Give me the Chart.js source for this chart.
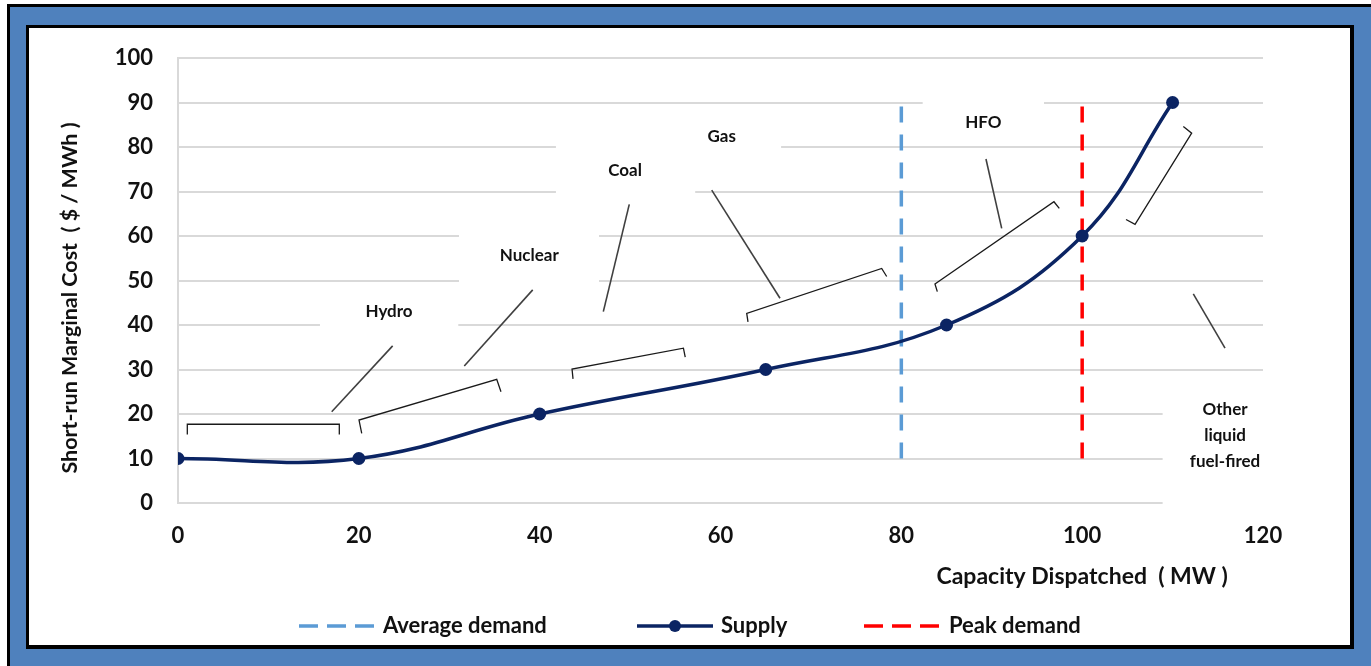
<!DOCTYPE html>
<html>
<head>
<meta charset="utf-8">
<title>Merit order supply curve</title>
<script src="https://cdn.jsdelivr.net/npm/chart.js@4.4.1/dist/chart.umd.min.js"></script>
<style>
  html, body { margin: 0; padding: 0; background: #ffffff; }
  #wrap { width: 1371px; height: 666px; }
</style>
</head>
<body>
<div id="wrap"><canvas id="chart" width="1371" height="666"></canvas></div>
<script>
// ---- Data -------------------------------------------------------------
const capacityMW   = [0, 20, 40, 65, 85, 100, 110];
const marginalCost = [10, 10, 20, 30, 40, 60, 90];

const averageDemandMW   = [80, 80];
const averageDemandCost = [10, 90];
const peakDemandMW      = [100, 100];
const peakDemandCost    = [10, 90];

const xTickValues = [0, 20, 40, 60, 80, 100, 120];
const yTickValues = [0, 10, 20, 30, 40, 50, 60, 70, 80, 90, 100];

const seriesNames = ['Average demand', 'Supply', 'Peak demand'];
const fuelTypes = ['Hydro', 'Nuclear', 'Coal', 'Gas', 'HFO', ['Other', 'liquid', 'fuel-fired']];

const xAxisTitle = 'Capacity Dispatched  ( MW )';
const yAxisTitle = 'Short-run Marginal Cost  ( $ / MWh )';

// ---- Callout geometry (in axis units) ---------------------------------
// box: [x0, y0, x1, y1], text anchor, leader line, bracket (a-b with end ticks)
const calloutLayout = [
  { box: [15.7, 48.5, 31.0, 37.8],  text: [23.34, 43.1], leader: [[17.0, 20.5], [23.74, 35.3]],
    bracket: { a: [1.03, 17.7], b: [17.84, 17.7], ta: [1.03, 15.4], tb: [17.84, 15.4] } },
  { box: [31.08, 60.9, 46.56, 48.2], text: [38.85, 55.7], leader: [[31.66, 30.8], [39.23, 47.9]],
    bracket: { a: [20.02, 18.65], b: [35.25, 27.8], ta: [20.32, 15.66], tb: [35.72, 25.0] } },
  { box: [41.8, 81.1, 57.2, 69.0],  text: [49.44, 74.8], leader: [[47.04, 43.0], [49.91, 67.1]],
    bracket: { a: [43.58, 30.1], b: [55.9, 34.8], ta: [43.69, 27.9], tb: [56.1, 32.8] } },
  { box: [53.5, 86.7, 66.7, 77.8],  text: [60.13, 82.3], leader: [[59.03, 70.3], [66.58, 46.0]],
    bracket: { a: [62.9, 42.6], b: [77.83, 52.7], ta: [63.04, 40.7], tb: [78.38, 50.9] } },
  { box: [82.36, 91.2, 95.78, 80.4], text: [89.07, 85.5], leader: [[89.36, 77.3], [91.1, 61.7]],
    bracket: { a: [83.72, 49.2], b: [96.88, 67.7], ta: [83.98, 47.5], tb: [97.47, 66.2] } },
  { box: [108.9, 28.1, 123.5, -1.5], text: [115.8, 15.1], leader: [[112.29, 47.0], [115.8, 34.8]],
    bracket: { a: [112.11, 83.1], b: [105.85, 62.6], ta: [111.19, 84.6], tb: [104.85, 63.7] } }
];

// ---- Styling ----------------------------------------------------------
const FONT = 'Lato, "Open Sans", "Liberation Sans", sans-serif';
const NAVY = '#0B2463';
const AVG_BLUE = '#5B9BD5';
const PEAK_RED = '#FF0000';
const FRAME_BLUE = '#4F81BD';
const GRID = '#D9D9D9';
const DASH = [16, 12];

const toPoints = (xs, ys) => xs.map((x, i) => ({ x: x, y: ys[i] }));

// Page frame: thin black rule, blue band, inner black rule, white panel
const framePlugin = {
  id: 'frame',
  beforeDraw(chart) {
    const c = chart.ctx, W = chart.width, H = chart.height;
    c.save();
    c.fillStyle = '#ffffff';
    c.fillRect(0, 0, W, H);
    c.fillStyle = '#000000';
    c.fillRect(7, 4, W - 7, H - 4);
    c.fillStyle = FRAME_BLUE;
    c.fillRect(10, 7, W - 10, H - 7);
    c.fillStyle = '#000000';
    c.fillRect(26, 25, 1354 - 26, 649 - 25);
    c.fillStyle = '#ffffff';
    c.fillRect(29, 28, 1350 - 29, 645 - 28);
    c.restore();
  }
};

// White text boxes behind the fuel labels (they mask the gridlines)
const calloutBoxes = {
  id: 'calloutBoxes',
  beforeDatasetsDraw(chart) {
    const c = chart.ctx, xs = chart.scales.x, ys = chart.scales.y;
    c.save();
    c.fillStyle = '#ffffff';
    calloutLayout.forEach(l => {
      const x0 = xs.getPixelForValue(l.box[0]), x1 = xs.getPixelForValue(l.box[2]);
      const y0 = ys.getPixelForValue(l.box[1]), y1 = ys.getPixelForValue(l.box[3]);
      c.fillRect(x0, y0, x1 - x0, y1 - y0);
    });
    c.restore();
  }
};

// Leader lines, brackets and fuel labels
const calloutMarks = {
  id: 'calloutMarks',
  afterDatasetsDraw(chart) {
    const c = chart.ctx, xs = chart.scales.x, ys = chart.scales.y;
    const P = p => [xs.getPixelForValue(p[0]), ys.getPixelForValue(p[1])];
    c.save();
    calloutLayout.forEach((l, i) => {
      // leader
      const a = P(l.leader[0]), b = P(l.leader[1]);
      c.strokeStyle = '#404040';
      c.lineWidth = 1.6;
      c.beginPath(); c.moveTo(a[0], a[1]); c.lineTo(b[0], b[1]); c.stroke();
      // bracket
      const br = l.bracket;
      const ba = P(br.a), bb = P(br.b), ta = P(br.ta), tb = P(br.tb);
      c.strokeStyle = '#1a1a1a';
      c.lineWidth = 1.3;
      c.beginPath();
      c.moveTo(ta[0], ta[1]); c.lineTo(ba[0], ba[1]); c.lineTo(bb[0], bb[1]); c.lineTo(tb[0], tb[1]);
      c.stroke();
      // label
      const t = P(l.text);
      c.fillStyle = '#111111';
      c.font = 'bold 17px ' + FONT;
      c.textAlign = 'center';
      c.textBaseline = 'middle';
      const lines = Array.isArray(fuelTypes[i]) ? fuelTypes[i] : [fuelTypes[i]];
      const lh = 26;
      lines.forEach((s, k) => {
        c.fillText(s, t[0], t[1] + (k - (lines.length - 1) / 2) * lh);
      });
    });
    c.restore();
  }
};

// Axis titles and legend
const titlesAndLegend = {
  id: 'titlesAndLegend',
  afterDraw(chart) {
    const c = chart.ctx, xs = chart.scales.x;
    c.save();
    c.fillStyle = '#111111';
    // x title
    c.font = 'bold 23px ' + FONT;
    c.textAlign = 'center';
    c.textBaseline = 'middle';
    c.fillText(xAxisTitle, xs.getPixelForValue(100), 577);
    // y title
    c.save();
    c.translate(70, 298);
    c.rotate(-Math.PI / 2);
    c.font = 'bold 21.5px ' + FONT;
    c.fillText(yAxisTitle, 0, 0);
    c.restore();

    // legend
    const ly = 626;
    const items = [
      { x0: 299, x1: 375, tx: 383, color: AVG_BLUE, dash: [19, 9], dot: false },
      { x0: 637, x1: 713, tx: 721, color: NAVY, dash: [], dot: true },
      { x0: 864, x1: 940, tx: 949, color: PEAK_RED, dash: [19, 9], dot: false }
    ];
    items.forEach((it, i) => {
      c.strokeStyle = it.color;
      c.lineWidth = 3.5;
      c.setLineDash(it.dash);
      c.beginPath(); c.moveTo(it.x0, ly); c.lineTo(it.x1, ly); c.stroke();
      c.setLineDash([]);
      if (it.dot) {
        c.fillStyle = it.color;
        c.beginPath(); c.arc((it.x0 + it.x1) / 2, ly, 6, 0, Math.PI * 2); c.fill();
      }
      c.fillStyle = '#111111';
      c.font = 'bold 22px ' + FONT;
      c.textAlign = 'left';
      c.textBaseline = 'middle';
      c.fillText(seriesNames[i], it.tx, ly);
    });
    c.restore();
  }
};

new Chart(document.getElementById('chart'), {
  type: 'line',
  data: {
    datasets: [
      {
        label: seriesNames[0],
        data: toPoints(averageDemandMW, averageDemandCost),
        borderColor: AVG_BLUE, borderWidth: 3.5, borderDash: DASH,
        pointRadius: 0, tension: 0, order: 1
      },
      {
        label: seriesNames[1],
        data: toPoints(capacityMW, marginalCost),
        borderColor: NAVY, backgroundColor: NAVY, borderWidth: 3.5,
        pointRadius: 6.5, pointBackgroundColor: NAVY, pointBorderWidth: 0,
        tension: 0.4, order: 0
      },
      {
        label: seriesNames[2],
        data: toPoints(peakDemandMW, peakDemandCost),
        borderColor: PEAK_RED, borderWidth: 3.5, borderDash: DASH,
        pointRadius: 0, tension: 0, order: 1
      }
    ]
  },
  options: {
    responsive: false,
    animation: false,
    devicePixelRatio: 1,
    layout: { padding: { left: 28, top: 58, right: 108, bottom: 113 } },
    scales: {
      x: {
        type: 'linear', min: 0, max: 120,
        afterBuildTicks: s => { s.ticks = xTickValues.map(v => ({ value: v })); },
        afterFit: s => { s.height = 50; },
        grid: { display: false, drawTicks: false },
        border: { display: false },
        ticks: { padding: 20, color: '#111111', font: { family: FONT, size: 22, weight: 'bold' } }
      },
      y: {
        type: 'linear', min: 0, max: 100,
        afterBuildTicks: s => { s.ticks = yTickValues.map(v => ({ value: v })); },
        afterFit: s => { s.width = 150; },
        grid: { color: GRID, lineWidth: 2, drawTicks: false },
        border: { display: true, color: GRID, width: 2 },
        ticks: { padding: 25, color: '#111111', font: { family: FONT, size: 22, weight: 'bold' } }
      }
    },
    plugins: {
      legend: { display: false },
      tooltip: { enabled: false }
    }
  },
  plugins: [framePlugin, calloutBoxes, calloutMarks, titlesAndLegend]
});
</script>
</body>
</html>
